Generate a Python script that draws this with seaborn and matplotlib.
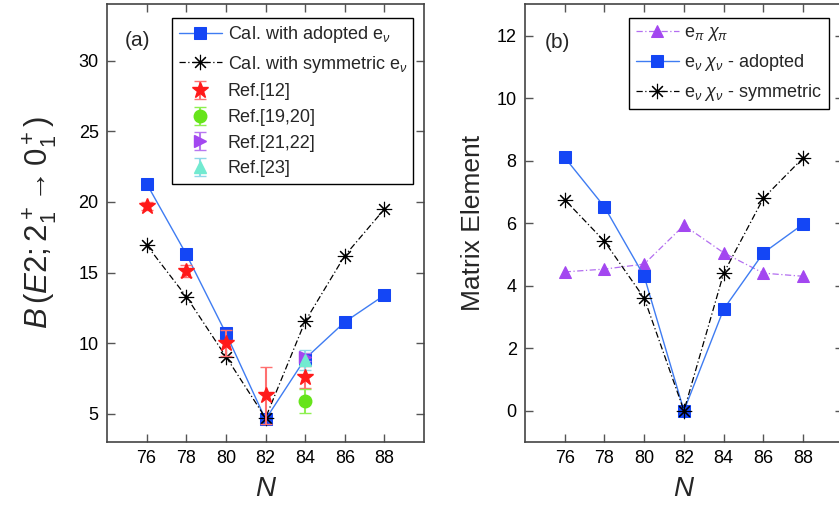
import numpy as np
import matplotlib
matplotlib.use('Agg')
import matplotlib.pyplot as plt
import seaborn as sns

N = [76, 78, 80, 82, 84, 86, 88]

# panel (a): B(E2) values
be2_adopted = [21.3, 16.3, 10.7, 4.6, 8.9, 11.5, 13.4]
be2_symmetric = [16.95, 13.3, 9.05, 4.7, 11.55, 16.2, 19.5]

ref12_n = [76, 78, 80, 82, 84]
ref12_val = [19.7, 15.1, 10.0, 6.3, 7.6]
ref12_err = [0.3, 0.4, 0.9, 2.0, 0.8]
ref1920_n = [84]
ref1920_val = [5.9]
ref1920_err = [0.85]
ref2122_n = [84]
ref2122_val = [9.0]
ref2122_err = [0.3]
ref23_n = [84]
ref23_val = [8.8]
ref23_err = [0.7]

# panel (b): matrix elements
me_proton = [4.44, 4.53, 4.69, 5.93, 5.05, 4.4, 4.3]
me_adopted = [8.1, 6.52, 4.3, 0.0, 3.25, 5.05, 5.97]
me_symmetric = [6.75, 5.42, 3.6, 0.0, 4.4, 6.8, 8.09]

sns.set_style('ticks')
plt.rcParams['font.family'] = ['Liberation Sans', 'DejaVu Sans']
plt.rcParams['mathtext.fontset'] = 'custom'
plt.rcParams['mathtext.rm'] = 'Liberation Sans'
plt.rcParams['mathtext.it'] = 'Liberation Sans:italic'
plt.rcParams['axes.edgecolor'] = '#444444'
plt.rcParams['xtick.color'] = '#555555'
plt.rcParams['ytick.color'] = '#555555'
plt.rcParams['xtick.labelcolor'] = 'black'
plt.rcParams['ytick.labelcolor'] = 'black'

fig = plt.figure(figsize=(8.39, 5.08), dpi=100)
ax1 = fig.add_axes([0.1275, 0.13, 0.378, 0.8615])
ax2 = fig.add_axes([0.6257, 0.13, 0.379, 0.8615])

blue_line = '#3f7cf2'
blue_mark = '#1446f5'
asterisk = (8, 2, 0)
dashdot = (0, (5, 2, 1, 2))

# ---- panel (a)
sns.lineplot(x=N, y=be2_adopted, ax=ax1, color=blue_line, lw=1.0, marker='s',
             markersize=8, markerfacecolor=blue_mark, markeredgecolor=blue_mark,
             label=r'Cal. with adopted e$_{\nu}$')
sns.lineplot(x=N, y=be2_symmetric, ax=ax1, color='black', lw=0.9, linestyle=dashdot,
             marker=asterisk, markersize=11, markeredgewidth=0.8, markeredgecolor='black',
             label=r'Cal. with symmetric e$_{\nu}$')

ax1.errorbar(ref12_n, ref12_val, yerr=ref12_err, fmt='*', color='#ff1a1a', ecolor='#ff7070',
             markersize=12, capsize=4, elinewidth=1.5, label='Ref.[12]')
ax1.errorbar(ref1920_n, ref1920_val, yerr=ref1920_err, fmt='o', color='#66e41a', ecolor='#8ef050',
             markersize=9, capsize=4, elinewidth=1.5, label='Ref.[19,20]')
ax1.errorbar(ref2122_n, ref2122_val, yerr=ref2122_err, fmt='>', color='#a347f0', ecolor='#b878f0',
             markersize=9, capsize=4, elinewidth=1.5, label='Ref.[21,22]')
ax1.errorbar(ref23_n, ref23_val, yerr=ref23_err, fmt='^', color='#72ead0', ecolor='#8fd8e8',
             markersize=9, capsize=4, elinewidth=1.5, label='Ref.[23]')

ax1.set_xlim(74, 90)
ax1.set_ylim(3, 34)
ax1.set_xticks(N)
ax1.set_yticks([5, 10, 15, 20, 25, 30])
ax1.set_xlabel(r'$N$', fontsize=20, labelpad=6)
ax1.set_ylabel(r'$B\,(E2;2^+_1\!\rightarrow 0^+_1)$', fontsize=22.5, labelpad=14)
ax1.text(0.057, 0.918, '(a)', transform=ax1.transAxes, fontsize=15, va='center')
ax1.legend(loc='upper left', bbox_to_anchor=(0.178, 0.99), fontsize=13, frameon=True,
           fancybox=False, edgecolor='black', framealpha=1, handlelength=2.4,
           borderpad=0.35, labelspacing=0.48, handletextpad=0.3)

# ---- panel (b)
sns.lineplot(x=N, y=me_proton, ax=ax2, color='#b36ef0', lw=0.9, linestyle=dashdot,
             marker='^', markersize=9, markerfacecolor='#a347f0', markeredgecolor='#a347f0',
             label=r'e$_{\pi}\ \chi_{\pi}$')
sns.lineplot(x=N, y=me_adopted, ax=ax2, color=blue_line, lw=1.0, marker='s',
             markersize=8, markerfacecolor=blue_mark, markeredgecolor=blue_mark,
             label=r'e$_{\nu}\ \chi_{\nu}$ - adopted')
sns.lineplot(x=N, y=me_symmetric, ax=ax2, color='black', lw=0.9, linestyle=dashdot,
             marker=asterisk, markersize=11, markeredgewidth=0.8, markeredgecolor='black',
             label=r'e$_{\nu}\ \chi_{\nu}$ - symmetric')

ax2.set_xlim(74, 90)
ax2.set_ylim(-1, 13)
ax2.set_xticks(N)
ax2.set_yticks([0, 2, 4, 6, 8, 10, 12])
ax2.set_xlabel(r'$N$', fontsize=20, labelpad=6)
ax2.set_ylabel('Matrix Element', fontsize=19, labelpad=8)
ax2.text(0.063, 0.913, '(b)', transform=ax2.transAxes, fontsize=15, va='center')
ax2.legend(loc='upper left', bbox_to_anchor=(0.3, 0.99), fontsize=13, frameon=True,
           fancybox=False, edgecolor='black', framealpha=1, handlelength=2.4,
           borderpad=0.35, labelspacing=0.5, handletextpad=0.3)

for ax in (ax1, ax2):
    ax.tick_params(direction='in', top=True, right=True, length=6, width=1, labelsize=13, pad=6)
    for s in ax.spines.values():
        s.set_linewidth(1.2)

fig.savefig('out.png', dpi=100)
